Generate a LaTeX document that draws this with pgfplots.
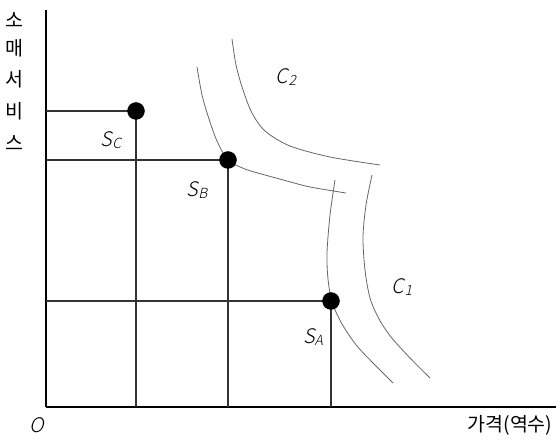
\documentclass[border=0pt]{standalone}
\usepackage{fontspec}
\setmainfont{Noto Sans CJK KR}
\newfontfamily\itf[FakeSlant=0.22]{Noto Sans CJK KR Light}
\usepackage{pgfplots}
\pgfplotsset{compat=1.18}

% data in pixel units of the reference (y measured upward)
\newcommand{\lab}[1]{{\itf\fontsize{20}{22}\selectfont #1}}
\newcommand{\sub}[2]{\lab{#1\raisebox{-0.2ex}{\fontsize{14}{15}\selectfont #2}}}
\newcommand{\kr}{\fontsize{19.5}{22}\selectfont}

\begin{document}
\begin{tikzpicture}
\begin{axis}[
  x=1pt, y=1pt,
  xmin=46, xmax=556, ymin=36, ymax=433,
  axis lines=left,
  axis line style={-, line width=2.6pt, black},
  xtick=\empty, ytick=\empty,
  clip=false,
]
% curve C2 (inner, through S_B)
\addplot[smooth, gray!80!black, line width=0.8pt] coordinates {
  (197,376) (202,348) (209,324) (217,302) (228,283) (245,274)
  (265,268) (287,262) (310,256) (346,250)};
% curve C2 (outer)
\addplot[smooth, gray!80!black, line width=0.8pt] coordinates {
  (232,404) (236,378) (243,353) (252,330) (265,312) (290,297)
  (330,286) (380,278)};
% curve C1 (inner, through S_A)
\addplot[smooth, gray!80!black, line width=0.8pt] coordinates {
  (335,263) (330,228) (327,190) (328,164) (332,141) (342,119)
  (357,97) (375,78) (393,60)};
% curve C1 (outer)
\addplot[smooth, gray!80!black, line width=0.8pt] coordinates {
  (372,268) (366,238) (363,206) (365,173) (370,145) (379,124)
  (391,106) (410,85) (430,65)};

% projections of the points
\addplot[black!80, line width=1.1pt] coordinates {(46,332) (136,332) (136,36)};
\addplot[black!80, line width=1.1pt] coordinates {(46,283) (228,283) (228,36)};
\addplot[black!80, line width=1.1pt] coordinates {(46,142) (331,142) (331,36)};

% points
\addplot[only marks, mark=*, mark size=8.5pt, black] coordinates {
  (136,332) (228,283) (331,142)};

% labels
\node at (axis cs:286,366) {\sub{C}{2}};
\node at (axis cs:402,156) {\sub{C}{1}};
\node at (axis cs:111,303) {\sub{S}{C}};
\node at (axis cs:197,253) {\sub{S}{B}};
\node at (axis cs:313,106) {\sub{S}{A}};
\node at (axis cs:37,18) {\lab{O}};
\node at (axis cs:510,18) {\kr 가격(역수)};
\node at (axis cs:14,423) {\kr 소};
\node at (axis cs:14,395) {\kr 매};
\node at (axis cs:14,364) {\kr 서};
\node at (axis cs:14,332) {\kr 비};
\node at (axis cs:14,300) {\kr 스};
\end{axis}
\path (-46pt,-36pt) rectangle (514pt,407pt);
\end{tikzpicture}
\end{document}
